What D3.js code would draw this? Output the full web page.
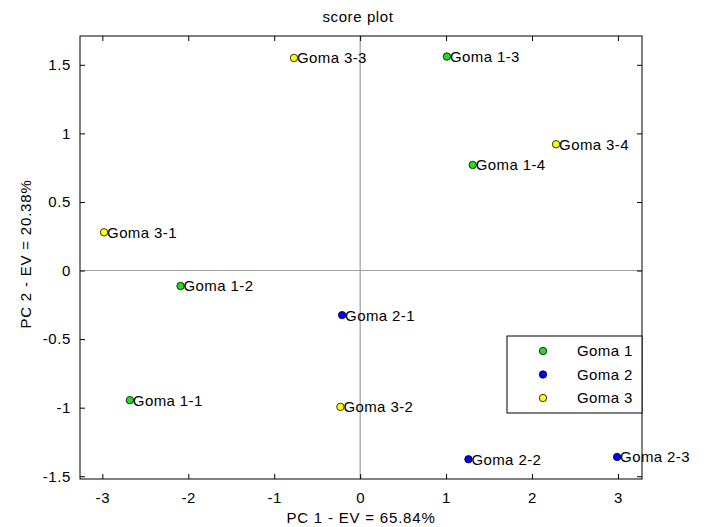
<!DOCTYPE html>
<html>
<head>
<meta charset="utf-8">
<script src="https://cdn.jsdelivr.net/npm/d3@7"></script>
<style>
  body { margin: 0; background: #fff; }
  text { font-family: "Liberation Sans", Arial, sans-serif; fill: #000; }
</style>
</head>
<body>
<div id="chart"></div>
<script>
// scores
var sampleNames = ["Goma 1-1", "Goma 1-2", "Goma 1-3", "Goma 1-4",
                   "Goma 2-1", "Goma 2-2", "Goma 2-3",
                   "Goma 3-1", "Goma 3-2", "Goma 3-3", "Goma 3-4"];
var sampleGroup = [0, 0, 0, 0, 1, 1, 1, 2, 2, 2, 2];
var pc1 = [-2.68, -2.09, 1.01, 1.31, -0.21, 1.26, 2.99, -2.98, -0.23, -0.77, 2.28];
var pc2 = [-0.945, -0.113, 1.56, 0.77, -0.325, -1.376, -1.359, 0.279, -0.994, 1.55, 0.921];

var groupNames = ["Goma 1", "Goma 2", "Goma 3"];
var groupColors = ["#22dd22", "#0000ff", "#ffff00"];

var xTicks = [-3, -2, -1, 0, 1, 2, 3];
var yTicks = [-1.5, -1, -0.5, 0, 0.5, 1, 1.5];
var xDomain = [-3.26, 3.28];
var yDomain = [-1.52, 1.71];

var width = 711, height = 527;
var margin = {left: 80, right: 69, top: 36, bottom: 48};

var svg = d3.select("#chart").append("svg")
  .attr("width", width)
  .attr("height", height);

var x = d3.scaleLinear().domain(xDomain).range([margin.left, width - margin.right]);
var y = d3.scaleLinear().domain(yDomain).range([height - margin.bottom, margin.top]);

var fontSize = 15;
// plain hyphen for negatives, like the original
var tickFmt = function(d) { return String(d); };

// zero lines
svg.append("line")
  .attr("x1", x(0)).attr("x2", x(0))
  .attr("y1", y.range()[1]).attr("y2", y.range()[0])
  .attr("stroke", "#8a8a8a").attr("stroke-width", 1);
svg.append("line")
  .attr("x1", x.range()[0]).attr("x2", x.range()[1])
  .attr("y1", y(0)).attr("y2", y(0))
  .attr("stroke", "#a0a0a0").attr("stroke-width", 1);

// axes, matlab style: ticks inside on all four sides
function styleAxis(g) {
  g.select(".domain").remove();
  g.selectAll("line").attr("stroke", "#000");
  g.selectAll("text")
    .style("font-size", fontSize + "px")
    .style("letter-spacing", "0.6px");
}

svg.append("g")
  .attr("transform", "translate(0," + y.range()[0] + ")")
  .call(d3.axisBottom(x).tickValues(xTicks).tickSizeInner(-5).tickSizeOuter(0).tickPadding(13).tickFormat(tickFmt))
  .call(styleAxis);

svg.append("g")
  .attr("transform", "translate(0," + y.range()[1] + ")")
  .call(d3.axisTop(x).tickValues(xTicks).tickSizeInner(-5).tickSizeOuter(0).tickFormat(""))
  .call(styleAxis);

svg.append("g")
  .attr("transform", "translate(" + x.range()[0] + ",0)")
  .call(d3.axisLeft(y).tickValues(yTicks).tickSizeInner(-5).tickSizeOuter(0).tickPadding(9).tickFormat(tickFmt))
  .call(styleAxis);

svg.append("g")
  .attr("transform", "translate(" + x.range()[1] + ",0)")
  .call(d3.axisRight(y).tickValues(yTicks).tickSizeInner(-5).tickSizeOuter(0).tickFormat(""))
  .call(styleAxis);

// box
svg.append("rect")
  .attr("x", x.range()[0]).attr("y", y.range()[1])
  .attr("width", x.range()[1] - x.range()[0])
  .attr("height", y.range()[0] - y.range()[1])
  .attr("fill", "none").attr("stroke", "#000").attr("stroke-width", 1);

// points
var points = sampleNames.map(function(n, i) {
  return {name: n, group: sampleGroup[i], x: pc1[i], y: pc2[i]};
});

var pts = svg.append("g").selectAll("g")
  .data(points)
  .enter()
  .append("g")
  .attr("transform", function(d) { return "translate(" + x(d.x) + "," + y(d.y) + ")"; });

pts.append("circle")
  .attr("r", 3.7)
  .attr("fill", function(d) { return groupColors[d.group]; })
  .attr("stroke", "#000")
  .attr("stroke-width", 0.8);

pts.append("text")
  .attr("x", 3)
  .attr("dy", "0.36em")
  .style("font-size", fontSize + "px")
  .style("letter-spacing", "0.4px")
  .text(function(d) { return d.name; });

// legend
var lg = svg.append("g").attr("transform", "translate(507,336)");
lg.append("rect")
  .attr("width", x.range()[1] - 507)
  .attr("height", 77)
  .attr("fill", "#fff")
  .attr("stroke", "#000");

var items = lg.selectAll(".item")
  .data(groupNames)
  .enter()
  .append("g")
  .attr("class", "item")
  .attr("transform", function(d, i) { return "translate(0," + (15 + i * 23.5) + ")"; });

items.append("circle")
  .attr("cx", 36)
  .attr("r", 3.7)
  .attr("fill", function(d, i) { return groupColors[i]; })
  .attr("stroke", "#000")
  .attr("stroke-width", 0.8);

items.append("text")
  .attr("x", 70)
  .attr("dy", "0.36em")
  .style("font-size", fontSize + "px")
  .style("letter-spacing", "0.4px")
  .text(function(d) { return d; });

// titles
svg.append("text")
  .attr("x", 358).attr("y", 22)
  .attr("text-anchor", "middle")
  .style("font-size", fontSize + "px")
  .style("letter-spacing", "0.6px")
  .text("score plot");

svg.append("text")
  .attr("x", 361).attr("y", 523)
  .attr("text-anchor", "middle")
  .style("font-size", fontSize + "px")
  .style("letter-spacing", "0.8px")
  .text("PC 1 - EV = 65.84%");

svg.append("text")
  .attr("transform", "translate(31,254) rotate(-90)")
  .attr("text-anchor", "middle")
  .style("font-size", fontSize + "px")
  .style("letter-spacing", "0.8px")
  .text("PC 2 - EV = 20.38%");
</script>
</body>
</html>
